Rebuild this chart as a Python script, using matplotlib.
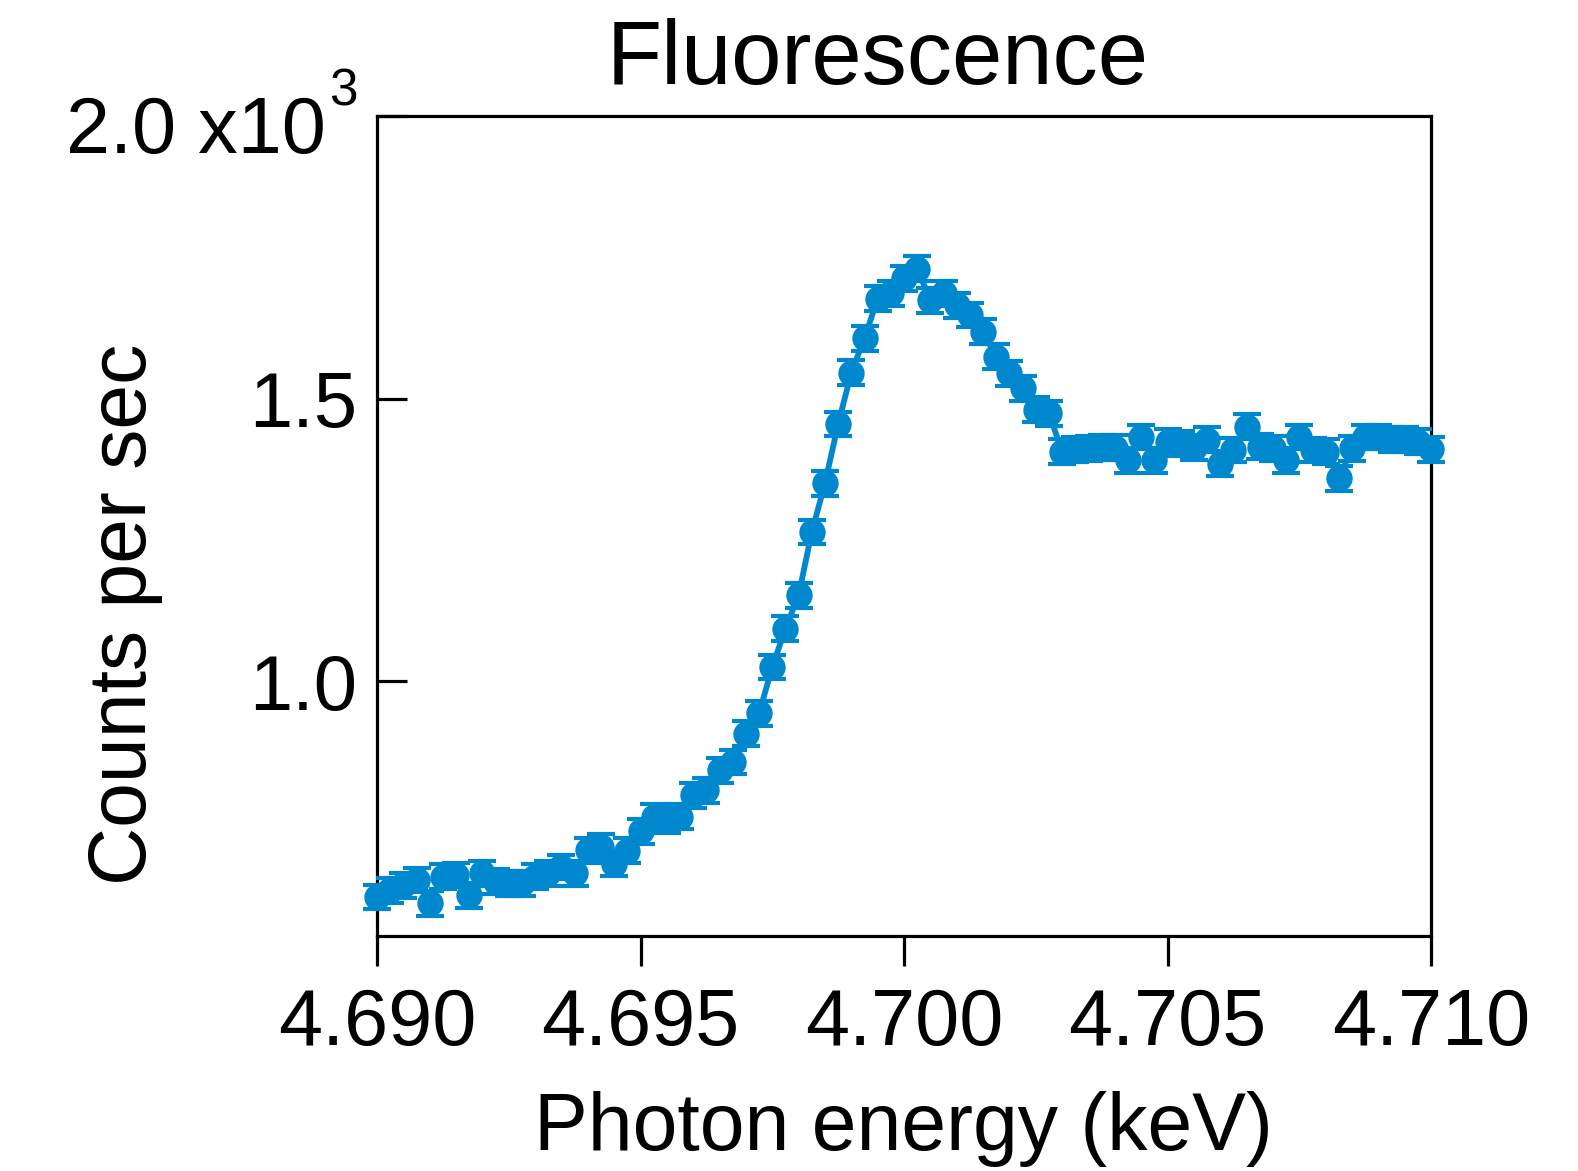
import matplotlib
matplotlib.use("Agg")
import matplotlib.pyplot as plt

plt.rcParams['font.family'] = ['Liberation Sans', 'DejaVu Sans']

# Photon energy (keV)
energy = [
    4.69000, 4.69025, 4.69050, 4.69075, 4.69100, 4.69125, 4.69150, 4.69175,
    4.69200, 4.69225, 4.69250, 4.69275, 4.69300, 4.69325, 4.69350, 4.69375,
    4.69400, 4.69425, 4.69450, 4.69475, 4.69500, 4.69525, 4.69550, 4.69575,
    4.69600, 4.69625, 4.69650, 4.69675, 4.69700, 4.69725, 4.69750, 4.69775,
    4.69800, 4.69825, 4.69850, 4.69875, 4.69900, 4.69925, 4.69950, 4.69975,
    4.70000, 4.70025, 4.70050, 4.70075, 4.70100, 4.70125, 4.70150, 4.70175,
    4.70200, 4.70225, 4.70250, 4.70275, 4.70300, 4.70325, 4.70350, 4.70375,
    4.70400, 4.70425, 4.70450, 4.70475, 4.70500, 4.70525, 4.70550, 4.70575,
    4.70600, 4.70625, 4.70650, 4.70675, 4.70700, 4.70725, 4.70750, 4.70775,
    4.70800, 4.70825, 4.70850, 4.70875, 4.70900, 4.70925, 4.70950, 4.70975,
    4.71000,
]

# Counts per second
counts = [
    618, 630, 639, 648, 607, 654, 657, 621,
    660, 645, 642, 642, 654, 660, 671, 660,
    701, 707, 677, 700, 734, 760, 754, 760,
    798, 807, 842, 857, 907, 943, 1025, 1093,
    1152, 1264, 1350, 1455, 1546, 1607, 1677, 1686,
    1713, 1730, 1674, 1686, 1665, 1648, 1618, 1574,
    1545, 1518, 1480, 1474, 1406, 1410, 1412, 1414,
    1413, 1391, 1432, 1391, 1424, 1421, 1413, 1427,
    1385, 1409, 1450, 1415, 1412, 1391, 1432, 1409,
    1406, 1359, 1412, 1432, 1432, 1427, 1427, 1424,
    1410,
]

# Error (counts per second)
count_err = [22] * len(counts)

x_ticks = [4.690, 4.695, 4.700, 4.705, 4.710]
x_ticklabels = ["4.690", "4.695", "4.700", "4.705", "4.710"]
y_ticks = [1000, 1500, 2000]
y_ticklabels = ["1.0", "1.5", ""]
top_label = "2.0 x10"
top_exponent = "3"

color = "#0088ce"

fig = plt.figure(figsize=(15.78, 11.71), dpi=100)
ax = fig.add_axes([0.2389, 0.2007, 0.9069 - 0.2389, 0.9009 - 0.2007])

ax.errorbar(energy, counts, yerr=count_err, color=color, marker='o',
            markersize=18, linewidth=4.2, elinewidth=2, capsize=10,
            capthick=3, clip_on=False, zorder=3)

ax.set_xlim(4.690, 4.710)
ax.set_ylim(549, 2000)

ax.set_xticks(x_ticks)
ax.set_xticklabels(x_ticklabels)
ax.set_yticks(y_ticks)
ax.set_yticklabels(y_ticklabels)

for sp in ax.spines.values():
    sp.set_linewidth(2.3)

ax.tick_params(axis='x', direction='out', length=21.6, width=2.3,
               labelsize=57, pad=15)
ax.tick_params(axis='y', direction='in', length=21.6, width=2.3,
               labelsize=56, pad=14)

fig.text(326 / 1578, 1 - 153 / 1171, top_label, fontsize=57,
         ha='right', va='baseline')
fig.text(329 / 1578, 1 - 106 / 1171, top_exponent, fontsize=37,
         ha='left', va='baseline')

fig.text(878 / 1578, 1 - 84 / 1171, "Fluorescence", fontsize=65,
         ha='center', va='baseline')
fig.text(903 / 1578, 1 - 1150 / 1171, "Photon energy (keV)", fontsize=58,
         ha='center', va='baseline')
fig.text(146 / 1578, 1 - 614 / 1171, "Counts per sec", fontsize=58,
         ha='center', va='baseline', rotation=90, rotation_mode='anchor')

fig.savefig("out.png", dpi=100)
